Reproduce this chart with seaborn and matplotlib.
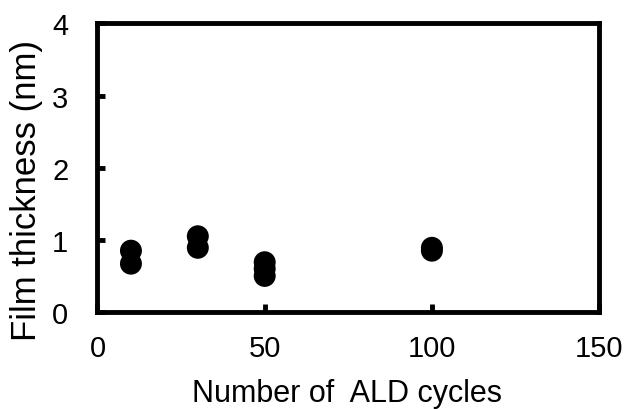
import pandas as pd
import seaborn as sns
import matplotlib.pyplot as plt

# Data
cycles = [10, 10, 30, 30, 50, 50, 50, 100, 100]
thickness = [0.85, 0.67, 1.05, 0.89, 0.69, 0.60, 0.50, 0.89, 0.85]

df = pd.DataFrame({'cycles': cycles, 'thickness': thickness})

sns.set_style('ticks')
plt.rcParams['font.family'] = ['Liberation Sans', 'DejaVu Sans']
plt.rcParams['text.color'] = 'black'
plt.rcParams['axes.labelcolor'] = 'black'

fig = plt.figure(figsize=(6.27, 4.10), dpi=100)
ax = fig.add_axes([0.1555, 0.2366, 0.800, 0.7037])

sns.scatterplot(x='cycles', y='thickness', data=df, color='black', s=250,
                edgecolor='none', ax=ax)

ax.set_xlim(0, 150)
ax.set_ylim(0, 4)
ax.set_xticks([0, 50, 100, 150])
ax.set_yticks([0, 1, 2, 3, 4])
for side in ['top', 'right', 'bottom', 'left']:
    ax.spines[side].set_visible(True)
    ax.spines[side].set_linewidth(3.5)
    ax.spines[side].set_color('black')
ax.tick_params(direction='in', length=6, width=3.5, labelsize=21,
               color='black', labelcolor='black')
ax.tick_params(axis='x', pad=16)
ax.tick_params(axis='y', pad=21)

ax.set_xlabel('Number of  ALD cycles', fontsize=22, color='black')
ax.xaxis.set_label_coords(0.497, -0.28)
ax.xaxis.label.set_va('center')
ax.set_ylabel('Film thickness (nm)', fontsize=25, color='black')
ax.yaxis.set_label_coords(-0.141, 0.423)
ax.yaxis.label.set_va('center')

plt.savefig('out.png', dpi=100)
